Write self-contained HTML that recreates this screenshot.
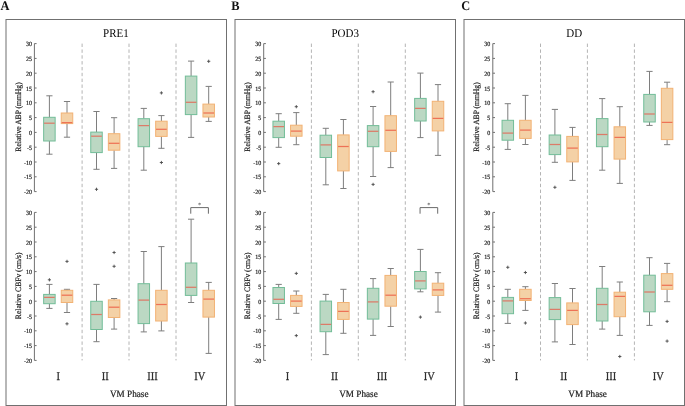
<!DOCTYPE html>
<html><head><meta charset="utf-8"><style>
html,body{margin:0;padding:0;background:#fff;}
svg{display:block;will-change:transform;}
svg text{-webkit-font-smoothing:antialiased;}
text{font-family:"Liberation Serif",serif;fill:#1a1a1a;text-rendering:geometricPrecision;}
.tk,.yl{stroke:#222;stroke-width:0.18px;}
.xl,.xt{stroke:#222;stroke-width:0.22px;}
.pl{font-size:12.4px;font-weight:bold;fill:#111;}
.ti{font-size:11px;fill:#000;}
.tk{font-size:6px;fill:#222;}
.yl{font-size:7.6px;fill:#222;}
.xl{font-size:10.5px;fill:#333;}
.xt{font-size:9.2px;fill:#222;}
.st{font-size:6.5px;fill:#333;}
</style></head><body>
<svg width="685" height="406" viewBox="0 0 685 406">
<rect width="685" height="406" fill="#fff"/>
<text transform="translate(0.5,9.8) scale(1,1.06)" class="pl">A</text>
<rect x="6" y="19.5" width="220.5" height="386" fill="none" stroke="#707070" stroke-width="1"/>
<text transform="translate(115.9,36.9) scale(1,1.08)" class="ti" text-anchor="middle">PRE1</text>
<line x1="82.1" y1="43.6" x2="82.1" y2="360.4" stroke="#b4b4b4" stroke-width="1" stroke-dasharray="3.4 2.44"/>
<line x1="129" y1="43.6" x2="129" y2="360.4" stroke="#b4b4b4" stroke-width="1" stroke-dasharray="3.4 2.44"/>
<line x1="176" y1="43.6" x2="176" y2="360.4" stroke="#b4b4b4" stroke-width="1" stroke-dasharray="3.4 2.44"/>
<line x1="34.4" y1="43.6" x2="34.4" y2="191.6" stroke="#707070" stroke-width="1"/>
<line x1="34.4" y1="43.6" x2="36.6" y2="43.6" stroke="#707070" stroke-width="1"/>
<text transform="translate(31.9,46.2) scale(1,1.06)" class="tk" text-anchor="end">30</text>
<line x1="34.4" y1="58.4" x2="36.6" y2="58.4" stroke="#707070" stroke-width="1"/>
<text transform="translate(31.9,61) scale(1,1.06)" class="tk" text-anchor="end">25</text>
<line x1="34.4" y1="73.2" x2="36.6" y2="73.2" stroke="#707070" stroke-width="1"/>
<text transform="translate(31.9,75.8) scale(1,1.06)" class="tk" text-anchor="end">20</text>
<line x1="34.4" y1="88" x2="36.6" y2="88" stroke="#707070" stroke-width="1"/>
<text transform="translate(31.9,90.6) scale(1,1.06)" class="tk" text-anchor="end">15</text>
<line x1="34.4" y1="102.8" x2="36.6" y2="102.8" stroke="#707070" stroke-width="1"/>
<text transform="translate(31.9,105.4) scale(1,1.06)" class="tk" text-anchor="end">10</text>
<line x1="34.4" y1="117.6" x2="36.6" y2="117.6" stroke="#707070" stroke-width="1"/>
<text transform="translate(31.9,120.2) scale(1,1.06)" class="tk" text-anchor="end">5</text>
<line x1="34.4" y1="132.4" x2="36.6" y2="132.4" stroke="#707070" stroke-width="1"/>
<text transform="translate(31.9,135) scale(1,1.06)" class="tk" text-anchor="end">0</text>
<line x1="34.4" y1="147.2" x2="36.6" y2="147.2" stroke="#707070" stroke-width="1"/>
<text transform="translate(31.9,149.8) scale(1,1.06)" class="tk" text-anchor="end">-5</text>
<line x1="34.4" y1="162" x2="36.6" y2="162" stroke="#707070" stroke-width="1"/>
<text transform="translate(31.9,164.6) scale(1,1.06)" class="tk" text-anchor="end">-10</text>
<line x1="34.4" y1="176.8" x2="36.6" y2="176.8" stroke="#707070" stroke-width="1"/>
<text transform="translate(31.9,179.4) scale(1,1.06)" class="tk" text-anchor="end">-15</text>
<line x1="34.4" y1="191.6" x2="36.6" y2="191.6" stroke="#707070" stroke-width="1"/>
<text transform="translate(31.9,194.2) scale(1,1.06)" class="tk" text-anchor="end">-20</text>
<text transform="translate(20.5,117) rotate(-90) scale(1,1.08)" class="yl" text-anchor="middle">Relative ABP (mmHg)</text>
<line x1="49.4" y1="95.8" x2="49.4" y2="117.3" stroke="#7e7e7e" stroke-width="1"/>
<line x1="49.4" y1="141" x2="49.4" y2="154.2" stroke="#7e7e7e" stroke-width="1"/>
<line x1="46.3" y1="95.8" x2="52.5" y2="95.8" stroke="#7e7e7e" stroke-width="1"/>
<line x1="46.3" y1="154.2" x2="52.5" y2="154.2" stroke="#7e7e7e" stroke-width="1"/>
<rect x="43.65" y="117.3" width="11.5" height="23.7" fill="#bbd8c3" stroke="#72bd98" stroke-width="1"/>
<line x1="44.05" y1="123.2" x2="54.75" y2="123.2" stroke="#dc7b68" stroke-width="1.25"/>
<line x1="67" y1="101.5" x2="67" y2="113" stroke="#7e7e7e" stroke-width="1"/>
<line x1="67" y1="123.6" x2="67" y2="137.2" stroke="#7e7e7e" stroke-width="1"/>
<line x1="63.9" y1="101.5" x2="70.1" y2="101.5" stroke="#7e7e7e" stroke-width="1"/>
<line x1="63.9" y1="137.2" x2="70.1" y2="137.2" stroke="#7e7e7e" stroke-width="1"/>
<rect x="61.25" y="113" width="11.5" height="10.6" fill="#f4d1a6" stroke="#f2b274" stroke-width="1"/>
<line x1="61.65" y1="122.6" x2="72.35" y2="122.6" stroke="#ee7256" stroke-width="1.25"/>
<line x1="96.5" y1="111.5" x2="96.5" y2="132.1" stroke="#7e7e7e" stroke-width="1"/>
<line x1="96.5" y1="152.6" x2="96.5" y2="169.3" stroke="#7e7e7e" stroke-width="1"/>
<line x1="93.4" y1="111.5" x2="99.6" y2="111.5" stroke="#7e7e7e" stroke-width="1"/>
<line x1="93.4" y1="169.3" x2="99.6" y2="169.3" stroke="#7e7e7e" stroke-width="1"/>
<rect x="90.75" y="132.1" width="11.5" height="20.5" fill="#bbd8c3" stroke="#72bd98" stroke-width="1"/>
<line x1="91.15" y1="136.2" x2="101.85" y2="136.2" stroke="#dc7b68" stroke-width="1.25"/>
<path d="M94.9 189.3H98.1M96.5 187.7V190.9" stroke="#4a4a4a" stroke-width="0.9" fill="none"/>
<line x1="114.1" y1="117.7" x2="114.1" y2="133.7" stroke="#7e7e7e" stroke-width="1"/>
<line x1="114.1" y1="150.2" x2="114.1" y2="168.4" stroke="#7e7e7e" stroke-width="1"/>
<line x1="111" y1="117.7" x2="117.2" y2="117.7" stroke="#7e7e7e" stroke-width="1"/>
<line x1="111" y1="168.4" x2="117.2" y2="168.4" stroke="#7e7e7e" stroke-width="1"/>
<rect x="108.35" y="133.7" width="11.5" height="16.5" fill="#f4d1a6" stroke="#f2b274" stroke-width="1"/>
<line x1="108.75" y1="143.3" x2="119.45" y2="143.3" stroke="#ee7256" stroke-width="1.25"/>
<line x1="143.8" y1="108.4" x2="143.8" y2="118.7" stroke="#7e7e7e" stroke-width="1"/>
<line x1="143.8" y1="146.7" x2="143.8" y2="170.2" stroke="#7e7e7e" stroke-width="1"/>
<line x1="140.7" y1="108.4" x2="146.9" y2="108.4" stroke="#7e7e7e" stroke-width="1"/>
<line x1="140.7" y1="170.2" x2="146.9" y2="170.2" stroke="#7e7e7e" stroke-width="1"/>
<rect x="138.05" y="118.7" width="11.5" height="28" fill="#bbd8c3" stroke="#72bd98" stroke-width="1"/>
<line x1="138.45" y1="125.6" x2="149.15" y2="125.6" stroke="#dc7b68" stroke-width="1.25"/>
<line x1="161.4" y1="115.6" x2="161.4" y2="121.2" stroke="#7e7e7e" stroke-width="1"/>
<line x1="161.4" y1="136.4" x2="161.4" y2="148.3" stroke="#7e7e7e" stroke-width="1"/>
<line x1="158.3" y1="115.6" x2="164.5" y2="115.6" stroke="#7e7e7e" stroke-width="1"/>
<line x1="158.3" y1="148.3" x2="164.5" y2="148.3" stroke="#7e7e7e" stroke-width="1"/>
<rect x="155.65" y="121.2" width="11.5" height="15.2" fill="#f4d1a6" stroke="#f2b274" stroke-width="1"/>
<line x1="156.05" y1="129.3" x2="166.75" y2="129.3" stroke="#ee7256" stroke-width="1.25"/>
<path d="M159.8 92.9H163M161.4 91.3V94.5" stroke="#4a4a4a" stroke-width="0.9" fill="none"/>
<path d="M159.8 162.5H163M161.4 160.9V164.1" stroke="#4a4a4a" stroke-width="0.9" fill="none"/>
<line x1="191.1" y1="61.1" x2="191.1" y2="76.1" stroke="#7e7e7e" stroke-width="1"/>
<line x1="191.1" y1="114.6" x2="191.1" y2="137.4" stroke="#7e7e7e" stroke-width="1"/>
<line x1="188" y1="61.1" x2="194.2" y2="61.1" stroke="#7e7e7e" stroke-width="1"/>
<line x1="188" y1="137.4" x2="194.2" y2="137.4" stroke="#7e7e7e" stroke-width="1"/>
<rect x="185.35" y="76.1" width="11.5" height="38.5" fill="#bbd8c3" stroke="#72bd98" stroke-width="1"/>
<line x1="185.75" y1="102.3" x2="196.45" y2="102.3" stroke="#dc7b68" stroke-width="1.25"/>
<line x1="208.7" y1="86.4" x2="208.7" y2="104.1" stroke="#7e7e7e" stroke-width="1"/>
<line x1="208.7" y1="117" x2="208.7" y2="121.4" stroke="#7e7e7e" stroke-width="1"/>
<line x1="205.6" y1="86.4" x2="211.8" y2="86.4" stroke="#7e7e7e" stroke-width="1"/>
<line x1="205.6" y1="121.4" x2="211.8" y2="121.4" stroke="#7e7e7e" stroke-width="1"/>
<rect x="202.95" y="104.1" width="11.5" height="12.9" fill="#f4d1a6" stroke="#f2b274" stroke-width="1"/>
<line x1="203.35" y1="113" x2="214.05" y2="113" stroke="#ee7256" stroke-width="1.25"/>
<path d="M207.1 61.3H210.3M208.7 59.7V62.9" stroke="#4a4a4a" stroke-width="0.9" fill="none"/>
<line x1="34.4" y1="212.4" x2="34.4" y2="360.4" stroke="#707070" stroke-width="1"/>
<line x1="34.4" y1="212.4" x2="36.6" y2="212.4" stroke="#707070" stroke-width="1"/>
<text transform="translate(31.9,215) scale(1,1.06)" class="tk" text-anchor="end">30</text>
<line x1="34.4" y1="227.2" x2="36.6" y2="227.2" stroke="#707070" stroke-width="1"/>
<text transform="translate(31.9,229.8) scale(1,1.06)" class="tk" text-anchor="end">25</text>
<line x1="34.4" y1="242" x2="36.6" y2="242" stroke="#707070" stroke-width="1"/>
<text transform="translate(31.9,244.6) scale(1,1.06)" class="tk" text-anchor="end">20</text>
<line x1="34.4" y1="256.8" x2="36.6" y2="256.8" stroke="#707070" stroke-width="1"/>
<text transform="translate(31.9,259.4) scale(1,1.06)" class="tk" text-anchor="end">15</text>
<line x1="34.4" y1="271.6" x2="36.6" y2="271.6" stroke="#707070" stroke-width="1"/>
<text transform="translate(31.9,274.2) scale(1,1.06)" class="tk" text-anchor="end">10</text>
<line x1="34.4" y1="286.4" x2="36.6" y2="286.4" stroke="#707070" stroke-width="1"/>
<text transform="translate(31.9,289) scale(1,1.06)" class="tk" text-anchor="end">5</text>
<line x1="34.4" y1="301.2" x2="36.6" y2="301.2" stroke="#707070" stroke-width="1"/>
<text transform="translate(31.9,303.8) scale(1,1.06)" class="tk" text-anchor="end">0</text>
<line x1="34.4" y1="316" x2="36.6" y2="316" stroke="#707070" stroke-width="1"/>
<text transform="translate(31.9,318.6) scale(1,1.06)" class="tk" text-anchor="end">-5</text>
<line x1="34.4" y1="330.8" x2="36.6" y2="330.8" stroke="#707070" stroke-width="1"/>
<text transform="translate(31.9,333.4) scale(1,1.06)" class="tk" text-anchor="end">-10</text>
<line x1="34.4" y1="345.6" x2="36.6" y2="345.6" stroke="#707070" stroke-width="1"/>
<text transform="translate(31.9,348.2) scale(1,1.06)" class="tk" text-anchor="end">-15</text>
<line x1="34.4" y1="360.4" x2="36.6" y2="360.4" stroke="#707070" stroke-width="1"/>
<text transform="translate(31.9,363) scale(1,1.06)" class="tk" text-anchor="end">-20</text>
<text transform="translate(20.5,285.8) rotate(-90) scale(1,1.08)" class="yl" text-anchor="middle">Relative CBFv (cm/s)</text>
<line x1="49.4" y1="284.4" x2="49.4" y2="294.4" stroke="#7e7e7e" stroke-width="1"/>
<line x1="49.4" y1="303.7" x2="49.4" y2="308.4" stroke="#7e7e7e" stroke-width="1"/>
<line x1="46.3" y1="284.4" x2="52.5" y2="284.4" stroke="#7e7e7e" stroke-width="1"/>
<line x1="46.3" y1="308.4" x2="52.5" y2="308.4" stroke="#7e7e7e" stroke-width="1"/>
<rect x="43.65" y="294.4" width="11.5" height="9.3" fill="#bbd8c3" stroke="#72bd98" stroke-width="1"/>
<line x1="44.05" y1="297.4" x2="54.75" y2="297.4" stroke="#dc7b68" stroke-width="1.25"/>
<path d="M47.8 279.8H51M49.4 278.2V281.4" stroke="#4a4a4a" stroke-width="0.9" fill="none"/>
<line x1="67" y1="289.3" x2="67" y2="290.3" stroke="#7e7e7e" stroke-width="1"/>
<line x1="67" y1="302.5" x2="67" y2="312.5" stroke="#7e7e7e" stroke-width="1"/>
<line x1="63.9" y1="289.3" x2="70.1" y2="289.3" stroke="#7e7e7e" stroke-width="1"/>
<line x1="63.9" y1="312.5" x2="70.1" y2="312.5" stroke="#7e7e7e" stroke-width="1"/>
<rect x="61.25" y="290.3" width="11.5" height="12.2" fill="#f4d1a6" stroke="#f2b274" stroke-width="1"/>
<line x1="61.65" y1="295.2" x2="72.35" y2="295.2" stroke="#ee7256" stroke-width="1.25"/>
<path d="M65.4 261.4H68.6M67 259.8V263" stroke="#4a4a4a" stroke-width="0.9" fill="none"/>
<path d="M65.4 323.8H68.6M67 322.2V325.4" stroke="#4a4a4a" stroke-width="0.9" fill="none"/>
<line x1="96.5" y1="284.4" x2="96.5" y2="301.3" stroke="#7e7e7e" stroke-width="1"/>
<line x1="96.5" y1="329.5" x2="96.5" y2="341.7" stroke="#7e7e7e" stroke-width="1"/>
<line x1="93.4" y1="284.4" x2="99.6" y2="284.4" stroke="#7e7e7e" stroke-width="1"/>
<line x1="93.4" y1="341.7" x2="99.6" y2="341.7" stroke="#7e7e7e" stroke-width="1"/>
<rect x="90.75" y="301.3" width="11.5" height="28.2" fill="#bbd8c3" stroke="#72bd98" stroke-width="1"/>
<line x1="91.15" y1="314.5" x2="101.85" y2="314.5" stroke="#dc7b68" stroke-width="1.25"/>
<line x1="114.1" y1="298.5" x2="114.1" y2="299.9" stroke="#7e7e7e" stroke-width="1"/>
<line x1="114.1" y1="317.5" x2="114.1" y2="329.1" stroke="#7e7e7e" stroke-width="1"/>
<line x1="111" y1="298.5" x2="117.2" y2="298.5" stroke="#7e7e7e" stroke-width="1"/>
<line x1="111" y1="329.1" x2="117.2" y2="329.1" stroke="#7e7e7e" stroke-width="1"/>
<rect x="108.35" y="299.9" width="11.5" height="17.6" fill="#f4d1a6" stroke="#f2b274" stroke-width="1"/>
<line x1="108.75" y1="307.2" x2="119.45" y2="307.2" stroke="#ee7256" stroke-width="1.25"/>
<path d="M112.5 252.5H115.7M114.1 250.9V254.1" stroke="#4a4a4a" stroke-width="0.9" fill="none"/>
<path d="M112.5 266.3H115.7M114.1 264.7V267.9" stroke="#4a4a4a" stroke-width="0.9" fill="none"/>
<line x1="143.8" y1="251.5" x2="143.8" y2="283.7" stroke="#7e7e7e" stroke-width="1"/>
<line x1="143.8" y1="323.6" x2="143.8" y2="331.9" stroke="#7e7e7e" stroke-width="1"/>
<line x1="140.7" y1="251.5" x2="146.9" y2="251.5" stroke="#7e7e7e" stroke-width="1"/>
<line x1="140.7" y1="331.9" x2="146.9" y2="331.9" stroke="#7e7e7e" stroke-width="1"/>
<rect x="138.05" y="283.7" width="11.5" height="39.9" fill="#bbd8c3" stroke="#72bd98" stroke-width="1"/>
<line x1="138.45" y1="300.1" x2="149.15" y2="300.1" stroke="#dc7b68" stroke-width="1.25"/>
<line x1="161.4" y1="246.6" x2="161.4" y2="290.3" stroke="#7e7e7e" stroke-width="1"/>
<line x1="161.4" y1="321" x2="161.4" y2="330.9" stroke="#7e7e7e" stroke-width="1"/>
<line x1="158.3" y1="246.6" x2="164.5" y2="246.6" stroke="#7e7e7e" stroke-width="1"/>
<line x1="158.3" y1="330.9" x2="164.5" y2="330.9" stroke="#7e7e7e" stroke-width="1"/>
<rect x="155.65" y="290.3" width="11.5" height="30.7" fill="#f4d1a6" stroke="#f2b274" stroke-width="1"/>
<line x1="156.05" y1="304.5" x2="166.75" y2="304.5" stroke="#ee7256" stroke-width="1.25"/>
<line x1="191.1" y1="219.2" x2="191.1" y2="263" stroke="#7e7e7e" stroke-width="1"/>
<line x1="191.1" y1="295.4" x2="191.1" y2="302.5" stroke="#7e7e7e" stroke-width="1"/>
<line x1="188" y1="219.2" x2="194.2" y2="219.2" stroke="#7e7e7e" stroke-width="1"/>
<line x1="188" y1="302.5" x2="194.2" y2="302.5" stroke="#7e7e7e" stroke-width="1"/>
<rect x="185.35" y="263" width="11.5" height="32.4" fill="#bbd8c3" stroke="#72bd98" stroke-width="1"/>
<line x1="185.75" y1="287.3" x2="196.45" y2="287.3" stroke="#dc7b68" stroke-width="1.25"/>
<line x1="208.7" y1="282.4" x2="208.7" y2="290.3" stroke="#7e7e7e" stroke-width="1"/>
<line x1="208.7" y1="317.1" x2="208.7" y2="353.4" stroke="#7e7e7e" stroke-width="1"/>
<line x1="205.6" y1="282.4" x2="211.8" y2="282.4" stroke="#7e7e7e" stroke-width="1"/>
<line x1="205.6" y1="353.4" x2="211.8" y2="353.4" stroke="#7e7e7e" stroke-width="1"/>
<rect x="202.95" y="290.3" width="11.5" height="26.8" fill="#f4d1a6" stroke="#f2b274" stroke-width="1"/>
<line x1="203.35" y1="299.1" x2="214.05" y2="299.1" stroke="#ee7256" stroke-width="1.25"/>
<text transform="translate(58.2,380) scale(1,1.14)" class="xl" text-anchor="middle">I</text>
<text transform="translate(105.3,380) scale(1,1.14)" class="xl" text-anchor="middle">II</text>
<text transform="translate(152.6,380) scale(1,1.14)" class="xl" text-anchor="middle">III</text>
<text transform="translate(199.9,380) scale(1,1.14)" class="xl" text-anchor="middle">IV</text>
<text transform="translate(129.2,396.8) scale(1,1.06)" class="xt" text-anchor="middle">VM Phase</text>
<text transform="translate(231.3,9.8) scale(1,1.06)" class="pl">B</text>
<rect x="235" y="19.5" width="220.5" height="386" fill="none" stroke="#707070" stroke-width="1"/>
<text transform="translate(345.2,36.9) scale(1,1.08)" class="ti" text-anchor="middle">POD3</text>
<line x1="311.4" y1="43.6" x2="311.4" y2="360.4" stroke="#b4b4b4" stroke-width="1" stroke-dasharray="3.4 2.44"/>
<line x1="358.3" y1="43.6" x2="358.3" y2="360.4" stroke="#b4b4b4" stroke-width="1" stroke-dasharray="3.4 2.44"/>
<line x1="405.3" y1="43.6" x2="405.3" y2="360.4" stroke="#b4b4b4" stroke-width="1" stroke-dasharray="3.4 2.44"/>
<line x1="263.7" y1="43.6" x2="263.7" y2="191.6" stroke="#707070" stroke-width="1"/>
<line x1="263.7" y1="43.6" x2="265.9" y2="43.6" stroke="#707070" stroke-width="1"/>
<text transform="translate(261.2,46.2) scale(1,1.06)" class="tk" text-anchor="end">30</text>
<line x1="263.7" y1="58.4" x2="265.9" y2="58.4" stroke="#707070" stroke-width="1"/>
<text transform="translate(261.2,61) scale(1,1.06)" class="tk" text-anchor="end">25</text>
<line x1="263.7" y1="73.2" x2="265.9" y2="73.2" stroke="#707070" stroke-width="1"/>
<text transform="translate(261.2,75.8) scale(1,1.06)" class="tk" text-anchor="end">20</text>
<line x1="263.7" y1="88" x2="265.9" y2="88" stroke="#707070" stroke-width="1"/>
<text transform="translate(261.2,90.6) scale(1,1.06)" class="tk" text-anchor="end">15</text>
<line x1="263.7" y1="102.8" x2="265.9" y2="102.8" stroke="#707070" stroke-width="1"/>
<text transform="translate(261.2,105.4) scale(1,1.06)" class="tk" text-anchor="end">10</text>
<line x1="263.7" y1="117.6" x2="265.9" y2="117.6" stroke="#707070" stroke-width="1"/>
<text transform="translate(261.2,120.2) scale(1,1.06)" class="tk" text-anchor="end">5</text>
<line x1="263.7" y1="132.4" x2="265.9" y2="132.4" stroke="#707070" stroke-width="1"/>
<text transform="translate(261.2,135) scale(1,1.06)" class="tk" text-anchor="end">0</text>
<line x1="263.7" y1="147.2" x2="265.9" y2="147.2" stroke="#707070" stroke-width="1"/>
<text transform="translate(261.2,149.8) scale(1,1.06)" class="tk" text-anchor="end">-5</text>
<line x1="263.7" y1="162" x2="265.9" y2="162" stroke="#707070" stroke-width="1"/>
<text transform="translate(261.2,164.6) scale(1,1.06)" class="tk" text-anchor="end">-10</text>
<line x1="263.7" y1="176.8" x2="265.9" y2="176.8" stroke="#707070" stroke-width="1"/>
<text transform="translate(261.2,179.4) scale(1,1.06)" class="tk" text-anchor="end">-15</text>
<line x1="263.7" y1="191.6" x2="265.9" y2="191.6" stroke="#707070" stroke-width="1"/>
<text transform="translate(261.2,194.2) scale(1,1.06)" class="tk" text-anchor="end">-20</text>
<text transform="translate(249.8,117) rotate(-90) scale(1,1.08)" class="yl" text-anchor="middle">Relative ABP (mmHg)</text>
<line x1="278.7" y1="113.7" x2="278.7" y2="121.2" stroke="#7e7e7e" stroke-width="1"/>
<line x1="278.7" y1="137.6" x2="278.7" y2="147.3" stroke="#7e7e7e" stroke-width="1"/>
<line x1="275.6" y1="113.7" x2="281.8" y2="113.7" stroke="#7e7e7e" stroke-width="1"/>
<line x1="275.6" y1="147.3" x2="281.8" y2="147.3" stroke="#7e7e7e" stroke-width="1"/>
<rect x="272.95" y="121.2" width="11.5" height="16.4" fill="#bbd8c3" stroke="#72bd98" stroke-width="1"/>
<line x1="273.35" y1="126.6" x2="284.05" y2="126.6" stroke="#dc7b68" stroke-width="1.25"/>
<path d="M277.1 163.6H280.3M278.7 162V165.2" stroke="#4a4a4a" stroke-width="0.9" fill="none"/>
<line x1="296.3" y1="112.6" x2="296.3" y2="125.2" stroke="#7e7e7e" stroke-width="1"/>
<line x1="296.3" y1="136.2" x2="296.3" y2="144.7" stroke="#7e7e7e" stroke-width="1"/>
<line x1="293.2" y1="112.6" x2="299.4" y2="112.6" stroke="#7e7e7e" stroke-width="1"/>
<line x1="293.2" y1="144.7" x2="299.4" y2="144.7" stroke="#7e7e7e" stroke-width="1"/>
<rect x="290.55" y="125.2" width="11.5" height="11" fill="#f4d1a6" stroke="#f2b274" stroke-width="1"/>
<line x1="290.95" y1="131.1" x2="301.65" y2="131.1" stroke="#ee7256" stroke-width="1.25"/>
<path d="M294.7 106.7H297.9M296.3 105.1V108.3" stroke="#4a4a4a" stroke-width="0.9" fill="none"/>
<line x1="325.8" y1="128.3" x2="325.8" y2="135.2" stroke="#7e7e7e" stroke-width="1"/>
<line x1="325.8" y1="157.5" x2="325.8" y2="184.8" stroke="#7e7e7e" stroke-width="1"/>
<line x1="322.7" y1="128.3" x2="328.9" y2="128.3" stroke="#7e7e7e" stroke-width="1"/>
<line x1="322.7" y1="184.8" x2="328.9" y2="184.8" stroke="#7e7e7e" stroke-width="1"/>
<rect x="320.05" y="135.2" width="11.5" height="22.3" fill="#bbd8c3" stroke="#72bd98" stroke-width="1"/>
<line x1="320.45" y1="144.9" x2="331.15" y2="144.9" stroke="#dc7b68" stroke-width="1.25"/>
<line x1="343.4" y1="119.5" x2="343.4" y2="134.9" stroke="#7e7e7e" stroke-width="1"/>
<line x1="343.4" y1="170.9" x2="343.4" y2="188.5" stroke="#7e7e7e" stroke-width="1"/>
<line x1="340.3" y1="119.5" x2="346.5" y2="119.5" stroke="#7e7e7e" stroke-width="1"/>
<line x1="340.3" y1="188.5" x2="346.5" y2="188.5" stroke="#7e7e7e" stroke-width="1"/>
<rect x="337.65" y="134.9" width="11.5" height="36" fill="#f4d1a6" stroke="#f2b274" stroke-width="1"/>
<line x1="338.05" y1="146.5" x2="348.75" y2="146.5" stroke="#ee7256" stroke-width="1.25"/>
<line x1="373.1" y1="106.5" x2="373.1" y2="125.6" stroke="#7e7e7e" stroke-width="1"/>
<line x1="373.1" y1="146.7" x2="373.1" y2="176.5" stroke="#7e7e7e" stroke-width="1"/>
<line x1="370" y1="106.5" x2="376.2" y2="106.5" stroke="#7e7e7e" stroke-width="1"/>
<line x1="370" y1="176.5" x2="376.2" y2="176.5" stroke="#7e7e7e" stroke-width="1"/>
<rect x="367.35" y="125.6" width="11.5" height="21.1" fill="#bbd8c3" stroke="#72bd98" stroke-width="1"/>
<line x1="367.75" y1="131.3" x2="378.45" y2="131.3" stroke="#dc7b68" stroke-width="1.25"/>
<path d="M371.5 91.7H374.7M373.1 90.1V93.3" stroke="#4a4a4a" stroke-width="0.9" fill="none"/>
<path d="M371.5 184.4H374.7M373.1 182.8V186" stroke="#4a4a4a" stroke-width="0.9" fill="none"/>
<line x1="390.7" y1="82" x2="390.7" y2="115.7" stroke="#7e7e7e" stroke-width="1"/>
<line x1="390.7" y1="151.4" x2="390.7" y2="167.6" stroke="#7e7e7e" stroke-width="1"/>
<line x1="387.6" y1="82" x2="393.8" y2="82" stroke="#7e7e7e" stroke-width="1"/>
<line x1="387.6" y1="167.6" x2="393.8" y2="167.6" stroke="#7e7e7e" stroke-width="1"/>
<rect x="384.95" y="115.7" width="11.5" height="35.7" fill="#f4d1a6" stroke="#f2b274" stroke-width="1"/>
<line x1="385.35" y1="130.3" x2="396.05" y2="130.3" stroke="#ee7256" stroke-width="1.25"/>
<line x1="420.4" y1="73.1" x2="420.4" y2="98.4" stroke="#7e7e7e" stroke-width="1"/>
<line x1="420.4" y1="121" x2="420.4" y2="137.6" stroke="#7e7e7e" stroke-width="1"/>
<line x1="417.3" y1="73.1" x2="423.5" y2="73.1" stroke="#7e7e7e" stroke-width="1"/>
<line x1="417.3" y1="137.6" x2="423.5" y2="137.6" stroke="#7e7e7e" stroke-width="1"/>
<rect x="414.65" y="98.4" width="11.5" height="22.6" fill="#bbd8c3" stroke="#72bd98" stroke-width="1"/>
<line x1="415.05" y1="108.4" x2="425.75" y2="108.4" stroke="#dc7b68" stroke-width="1.25"/>
<line x1="438" y1="84.6" x2="438" y2="101.3" stroke="#7e7e7e" stroke-width="1"/>
<line x1="438" y1="130.9" x2="438" y2="155.4" stroke="#7e7e7e" stroke-width="1"/>
<line x1="434.9" y1="84.6" x2="441.1" y2="84.6" stroke="#7e7e7e" stroke-width="1"/>
<line x1="434.9" y1="155.4" x2="441.1" y2="155.4" stroke="#7e7e7e" stroke-width="1"/>
<rect x="432.25" y="101.3" width="11.5" height="29.6" fill="#f4d1a6" stroke="#f2b274" stroke-width="1"/>
<line x1="432.65" y1="118.4" x2="443.35" y2="118.4" stroke="#ee7256" stroke-width="1.25"/>
<line x1="263.7" y1="212.4" x2="263.7" y2="360.4" stroke="#707070" stroke-width="1"/>
<line x1="263.7" y1="212.4" x2="265.9" y2="212.4" stroke="#707070" stroke-width="1"/>
<text transform="translate(261.2,215) scale(1,1.06)" class="tk" text-anchor="end">30</text>
<line x1="263.7" y1="227.2" x2="265.9" y2="227.2" stroke="#707070" stroke-width="1"/>
<text transform="translate(261.2,229.8) scale(1,1.06)" class="tk" text-anchor="end">25</text>
<line x1="263.7" y1="242" x2="265.9" y2="242" stroke="#707070" stroke-width="1"/>
<text transform="translate(261.2,244.6) scale(1,1.06)" class="tk" text-anchor="end">20</text>
<line x1="263.7" y1="256.8" x2="265.9" y2="256.8" stroke="#707070" stroke-width="1"/>
<text transform="translate(261.2,259.4) scale(1,1.06)" class="tk" text-anchor="end">15</text>
<line x1="263.7" y1="271.6" x2="265.9" y2="271.6" stroke="#707070" stroke-width="1"/>
<text transform="translate(261.2,274.2) scale(1,1.06)" class="tk" text-anchor="end">10</text>
<line x1="263.7" y1="286.4" x2="265.9" y2="286.4" stroke="#707070" stroke-width="1"/>
<text transform="translate(261.2,289) scale(1,1.06)" class="tk" text-anchor="end">5</text>
<line x1="263.7" y1="301.2" x2="265.9" y2="301.2" stroke="#707070" stroke-width="1"/>
<text transform="translate(261.2,303.8) scale(1,1.06)" class="tk" text-anchor="end">0</text>
<line x1="263.7" y1="316" x2="265.9" y2="316" stroke="#707070" stroke-width="1"/>
<text transform="translate(261.2,318.6) scale(1,1.06)" class="tk" text-anchor="end">-5</text>
<line x1="263.7" y1="330.8" x2="265.9" y2="330.8" stroke="#707070" stroke-width="1"/>
<text transform="translate(261.2,333.4) scale(1,1.06)" class="tk" text-anchor="end">-10</text>
<line x1="263.7" y1="345.6" x2="265.9" y2="345.6" stroke="#707070" stroke-width="1"/>
<text transform="translate(261.2,348.2) scale(1,1.06)" class="tk" text-anchor="end">-15</text>
<line x1="263.7" y1="360.4" x2="265.9" y2="360.4" stroke="#707070" stroke-width="1"/>
<text transform="translate(261.2,363) scale(1,1.06)" class="tk" text-anchor="end">-20</text>
<text transform="translate(249.8,285.8) rotate(-90) scale(1,1.08)" class="yl" text-anchor="middle">Relative CBFv (cm/s)</text>
<line x1="278.7" y1="284.4" x2="278.7" y2="287.5" stroke="#7e7e7e" stroke-width="1"/>
<line x1="278.7" y1="303.5" x2="278.7" y2="319.4" stroke="#7e7e7e" stroke-width="1"/>
<line x1="275.6" y1="284.4" x2="281.8" y2="284.4" stroke="#7e7e7e" stroke-width="1"/>
<line x1="275.6" y1="319.4" x2="281.8" y2="319.4" stroke="#7e7e7e" stroke-width="1"/>
<rect x="272.95" y="287.5" width="11.5" height="16" fill="#bbd8c3" stroke="#72bd98" stroke-width="1"/>
<line x1="273.35" y1="299.3" x2="284.05" y2="299.3" stroke="#dc7b68" stroke-width="1.25"/>
<line x1="296.3" y1="291" x2="296.3" y2="295.4" stroke="#7e7e7e" stroke-width="1"/>
<line x1="296.3" y1="306.4" x2="296.3" y2="313.3" stroke="#7e7e7e" stroke-width="1"/>
<line x1="293.2" y1="291" x2="299.4" y2="291" stroke="#7e7e7e" stroke-width="1"/>
<line x1="293.2" y1="313.3" x2="299.4" y2="313.3" stroke="#7e7e7e" stroke-width="1"/>
<rect x="290.55" y="295.4" width="11.5" height="11" fill="#f4d1a6" stroke="#f2b274" stroke-width="1"/>
<line x1="290.95" y1="301.1" x2="301.65" y2="301.1" stroke="#ee7256" stroke-width="1.25"/>
<path d="M294.7 273.4H297.9M296.3 271.8V275" stroke="#4a4a4a" stroke-width="0.9" fill="none"/>
<path d="M294.7 335.6H297.9M296.3 334V337.2" stroke="#4a4a4a" stroke-width="0.9" fill="none"/>
<line x1="325.8" y1="294.4" x2="325.8" y2="301.1" stroke="#7e7e7e" stroke-width="1"/>
<line x1="325.8" y1="331.7" x2="325.8" y2="354.6" stroke="#7e7e7e" stroke-width="1"/>
<line x1="322.7" y1="294.4" x2="328.9" y2="294.4" stroke="#7e7e7e" stroke-width="1"/>
<line x1="322.7" y1="354.6" x2="328.9" y2="354.6" stroke="#7e7e7e" stroke-width="1"/>
<rect x="320.05" y="301.1" width="11.5" height="30.6" fill="#bbd8c3" stroke="#72bd98" stroke-width="1"/>
<line x1="320.45" y1="324.4" x2="331.15" y2="324.4" stroke="#dc7b68" stroke-width="1.25"/>
<line x1="343.4" y1="289.3" x2="343.4" y2="302.5" stroke="#7e7e7e" stroke-width="1"/>
<line x1="343.4" y1="319.4" x2="343.4" y2="333.3" stroke="#7e7e7e" stroke-width="1"/>
<line x1="340.3" y1="289.3" x2="346.5" y2="289.3" stroke="#7e7e7e" stroke-width="1"/>
<line x1="340.3" y1="333.3" x2="346.5" y2="333.3" stroke="#7e7e7e" stroke-width="1"/>
<rect x="337.65" y="302.5" width="11.5" height="16.9" fill="#f4d1a6" stroke="#f2b274" stroke-width="1"/>
<line x1="338.05" y1="311.4" x2="348.75" y2="311.4" stroke="#ee7256" stroke-width="1.25"/>
<line x1="373.1" y1="278.6" x2="373.1" y2="288.3" stroke="#7e7e7e" stroke-width="1"/>
<line x1="373.1" y1="319.1" x2="373.1" y2="335.4" stroke="#7e7e7e" stroke-width="1"/>
<line x1="370" y1="278.6" x2="376.2" y2="278.6" stroke="#7e7e7e" stroke-width="1"/>
<line x1="370" y1="335.4" x2="376.2" y2="335.4" stroke="#7e7e7e" stroke-width="1"/>
<rect x="367.35" y="288.3" width="11.5" height="30.8" fill="#bbd8c3" stroke="#72bd98" stroke-width="1"/>
<line x1="367.75" y1="301.9" x2="378.45" y2="301.9" stroke="#dc7b68" stroke-width="1.25"/>
<line x1="390.7" y1="268.5" x2="390.7" y2="275.4" stroke="#7e7e7e" stroke-width="1"/>
<line x1="390.7" y1="306.2" x2="390.7" y2="326.5" stroke="#7e7e7e" stroke-width="1"/>
<line x1="387.6" y1="268.5" x2="393.8" y2="268.5" stroke="#7e7e7e" stroke-width="1"/>
<line x1="387.6" y1="326.5" x2="393.8" y2="326.5" stroke="#7e7e7e" stroke-width="1"/>
<rect x="384.95" y="275.4" width="11.5" height="30.8" fill="#f4d1a6" stroke="#f2b274" stroke-width="1"/>
<line x1="385.35" y1="295.2" x2="396.05" y2="295.2" stroke="#ee7256" stroke-width="1.25"/>
<line x1="420.4" y1="249.4" x2="420.4" y2="271.5" stroke="#7e7e7e" stroke-width="1"/>
<line x1="420.4" y1="288.9" x2="420.4" y2="291.8" stroke="#7e7e7e" stroke-width="1"/>
<line x1="417.3" y1="249.4" x2="423.5" y2="249.4" stroke="#7e7e7e" stroke-width="1"/>
<line x1="417.3" y1="291.8" x2="423.5" y2="291.8" stroke="#7e7e7e" stroke-width="1"/>
<rect x="414.65" y="271.5" width="11.5" height="17.4" fill="#bbd8c3" stroke="#72bd98" stroke-width="1"/>
<line x1="415.05" y1="280.9" x2="425.75" y2="280.9" stroke="#dc7b68" stroke-width="1.25"/>
<path d="M418.8 317.1H422M420.4 315.5V318.7" stroke="#4a4a4a" stroke-width="0.9" fill="none"/>
<line x1="438" y1="272.7" x2="438" y2="283.2" stroke="#7e7e7e" stroke-width="1"/>
<line x1="438" y1="295.4" x2="438" y2="312.1" stroke="#7e7e7e" stroke-width="1"/>
<line x1="434.9" y1="272.7" x2="441.1" y2="272.7" stroke="#7e7e7e" stroke-width="1"/>
<line x1="434.9" y1="312.1" x2="441.1" y2="312.1" stroke="#7e7e7e" stroke-width="1"/>
<rect x="432.25" y="283.2" width="11.5" height="12.2" fill="#f4d1a6" stroke="#f2b274" stroke-width="1"/>
<line x1="432.65" y1="289.9" x2="443.35" y2="289.9" stroke="#ee7256" stroke-width="1.25"/>
<text transform="translate(287.5,380) scale(1,1.14)" class="xl" text-anchor="middle">I</text>
<text transform="translate(334.6,380) scale(1,1.14)" class="xl" text-anchor="middle">II</text>
<text transform="translate(381.9,380) scale(1,1.14)" class="xl" text-anchor="middle">III</text>
<text transform="translate(429.2,380) scale(1,1.14)" class="xl" text-anchor="middle">IV</text>
<text transform="translate(358.5,396.8) scale(1,1.06)" class="xt" text-anchor="middle">VM Phase</text>
<text transform="translate(461.2,9.8) scale(1,1.06)" class="pl">C</text>
<rect x="464" y="19.5" width="220.5" height="386" fill="none" stroke="#707070" stroke-width="1"/>
<text transform="translate(574.3,36.9) scale(1,1.08)" class="ti" text-anchor="middle">DD</text>
<line x1="540.5" y1="43.6" x2="540.5" y2="360.4" stroke="#b4b4b4" stroke-width="1" stroke-dasharray="3.4 2.44"/>
<line x1="587.4" y1="43.6" x2="587.4" y2="360.4" stroke="#b4b4b4" stroke-width="1" stroke-dasharray="3.4 2.44"/>
<line x1="634.4" y1="43.6" x2="634.4" y2="360.4" stroke="#b4b4b4" stroke-width="1" stroke-dasharray="3.4 2.44"/>
<line x1="492.8" y1="43.6" x2="492.8" y2="191.6" stroke="#707070" stroke-width="1"/>
<line x1="492.8" y1="43.6" x2="495" y2="43.6" stroke="#707070" stroke-width="1"/>
<text transform="translate(490.3,46.2) scale(1,1.06)" class="tk" text-anchor="end">30</text>
<line x1="492.8" y1="58.4" x2="495" y2="58.4" stroke="#707070" stroke-width="1"/>
<text transform="translate(490.3,61) scale(1,1.06)" class="tk" text-anchor="end">25</text>
<line x1="492.8" y1="73.2" x2="495" y2="73.2" stroke="#707070" stroke-width="1"/>
<text transform="translate(490.3,75.8) scale(1,1.06)" class="tk" text-anchor="end">20</text>
<line x1="492.8" y1="88" x2="495" y2="88" stroke="#707070" stroke-width="1"/>
<text transform="translate(490.3,90.6) scale(1,1.06)" class="tk" text-anchor="end">15</text>
<line x1="492.8" y1="102.8" x2="495" y2="102.8" stroke="#707070" stroke-width="1"/>
<text transform="translate(490.3,105.4) scale(1,1.06)" class="tk" text-anchor="end">10</text>
<line x1="492.8" y1="117.6" x2="495" y2="117.6" stroke="#707070" stroke-width="1"/>
<text transform="translate(490.3,120.2) scale(1,1.06)" class="tk" text-anchor="end">5</text>
<line x1="492.8" y1="132.4" x2="495" y2="132.4" stroke="#707070" stroke-width="1"/>
<text transform="translate(490.3,135) scale(1,1.06)" class="tk" text-anchor="end">0</text>
<line x1="492.8" y1="147.2" x2="495" y2="147.2" stroke="#707070" stroke-width="1"/>
<text transform="translate(490.3,149.8) scale(1,1.06)" class="tk" text-anchor="end">-5</text>
<line x1="492.8" y1="162" x2="495" y2="162" stroke="#707070" stroke-width="1"/>
<text transform="translate(490.3,164.6) scale(1,1.06)" class="tk" text-anchor="end">-10</text>
<line x1="492.8" y1="176.8" x2="495" y2="176.8" stroke="#707070" stroke-width="1"/>
<text transform="translate(490.3,179.4) scale(1,1.06)" class="tk" text-anchor="end">-15</text>
<line x1="492.8" y1="191.6" x2="495" y2="191.6" stroke="#707070" stroke-width="1"/>
<text transform="translate(490.3,194.2) scale(1,1.06)" class="tk" text-anchor="end">-20</text>
<text transform="translate(478.9,117) rotate(-90) scale(1,1.08)" class="yl" text-anchor="middle">Relative ABP (mmHg)</text>
<line x1="507.8" y1="103.7" x2="507.8" y2="120.3" stroke="#7e7e7e" stroke-width="1"/>
<line x1="507.8" y1="140.2" x2="507.8" y2="149.4" stroke="#7e7e7e" stroke-width="1"/>
<line x1="504.7" y1="103.7" x2="510.9" y2="103.7" stroke="#7e7e7e" stroke-width="1"/>
<line x1="504.7" y1="149.4" x2="510.9" y2="149.4" stroke="#7e7e7e" stroke-width="1"/>
<rect x="502.05" y="120.3" width="11.5" height="19.9" fill="#bbd8c3" stroke="#72bd98" stroke-width="1"/>
<line x1="502.45" y1="133.1" x2="513.15" y2="133.1" stroke="#dc7b68" stroke-width="1.25"/>
<line x1="525.4" y1="95.4" x2="525.4" y2="120.3" stroke="#7e7e7e" stroke-width="1"/>
<line x1="525.4" y1="138.4" x2="525.4" y2="144.5" stroke="#7e7e7e" stroke-width="1"/>
<line x1="522.3" y1="95.4" x2="528.5" y2="95.4" stroke="#7e7e7e" stroke-width="1"/>
<line x1="522.3" y1="144.5" x2="528.5" y2="144.5" stroke="#7e7e7e" stroke-width="1"/>
<rect x="519.65" y="120.3" width="11.5" height="18.1" fill="#f4d1a6" stroke="#f2b274" stroke-width="1"/>
<line x1="520.05" y1="130.1" x2="530.75" y2="130.1" stroke="#ee7256" stroke-width="1.25"/>
<line x1="554.9" y1="109.4" x2="554.9" y2="135" stroke="#7e7e7e" stroke-width="1"/>
<line x1="554.9" y1="154.6" x2="554.9" y2="162.3" stroke="#7e7e7e" stroke-width="1"/>
<line x1="551.8" y1="109.4" x2="558" y2="109.4" stroke="#7e7e7e" stroke-width="1"/>
<line x1="551.8" y1="162.3" x2="558" y2="162.3" stroke="#7e7e7e" stroke-width="1"/>
<rect x="549.15" y="135" width="11.5" height="19.6" fill="#bbd8c3" stroke="#72bd98" stroke-width="1"/>
<line x1="549.55" y1="144.5" x2="560.25" y2="144.5" stroke="#dc7b68" stroke-width="1.25"/>
<path d="M553.3 187.3H556.5M554.9 185.7V188.9" stroke="#4a4a4a" stroke-width="0.9" fill="none"/>
<line x1="572.5" y1="127.4" x2="572.5" y2="136.4" stroke="#7e7e7e" stroke-width="1"/>
<line x1="572.5" y1="161.9" x2="572.5" y2="180.4" stroke="#7e7e7e" stroke-width="1"/>
<line x1="569.4" y1="127.4" x2="575.6" y2="127.4" stroke="#7e7e7e" stroke-width="1"/>
<line x1="569.4" y1="180.4" x2="575.6" y2="180.4" stroke="#7e7e7e" stroke-width="1"/>
<rect x="566.75" y="136.4" width="11.5" height="25.5" fill="#f4d1a6" stroke="#f2b274" stroke-width="1"/>
<line x1="567.15" y1="148.1" x2="577.85" y2="148.1" stroke="#ee7256" stroke-width="1.25"/>
<line x1="602.2" y1="98.6" x2="602.2" y2="118.6" stroke="#7e7e7e" stroke-width="1"/>
<line x1="602.2" y1="146.7" x2="602.2" y2="170.2" stroke="#7e7e7e" stroke-width="1"/>
<line x1="599.1" y1="98.6" x2="605.3" y2="98.6" stroke="#7e7e7e" stroke-width="1"/>
<line x1="599.1" y1="170.2" x2="605.3" y2="170.2" stroke="#7e7e7e" stroke-width="1"/>
<rect x="596.45" y="118.6" width="11.5" height="28.1" fill="#bbd8c3" stroke="#72bd98" stroke-width="1"/>
<line x1="596.85" y1="134.5" x2="607.55" y2="134.5" stroke="#dc7b68" stroke-width="1.25"/>
<line x1="619.8" y1="106.7" x2="619.8" y2="126.8" stroke="#7e7e7e" stroke-width="1"/>
<line x1="619.8" y1="159.1" x2="619.8" y2="183.4" stroke="#7e7e7e" stroke-width="1"/>
<line x1="616.7" y1="106.7" x2="622.9" y2="106.7" stroke="#7e7e7e" stroke-width="1"/>
<line x1="616.7" y1="183.4" x2="622.9" y2="183.4" stroke="#7e7e7e" stroke-width="1"/>
<rect x="614.05" y="126.8" width="11.5" height="32.3" fill="#f4d1a6" stroke="#f2b274" stroke-width="1"/>
<line x1="614.45" y1="137.4" x2="625.15" y2="137.4" stroke="#ee7256" stroke-width="1.25"/>
<line x1="649.5" y1="71.4" x2="649.5" y2="94.4" stroke="#7e7e7e" stroke-width="1"/>
<line x1="649.5" y1="122" x2="649.5" y2="125.4" stroke="#7e7e7e" stroke-width="1"/>
<line x1="646.4" y1="71.4" x2="652.6" y2="71.4" stroke="#7e7e7e" stroke-width="1"/>
<line x1="646.4" y1="125.4" x2="652.6" y2="125.4" stroke="#7e7e7e" stroke-width="1"/>
<rect x="643.75" y="94.4" width="11.5" height="27.6" fill="#bbd8c3" stroke="#72bd98" stroke-width="1"/>
<line x1="644.15" y1="114" x2="654.85" y2="114" stroke="#dc7b68" stroke-width="1.25"/>
<line x1="667.1" y1="82.2" x2="667.1" y2="88.3" stroke="#7e7e7e" stroke-width="1"/>
<line x1="667.1" y1="139.6" x2="667.1" y2="144.7" stroke="#7e7e7e" stroke-width="1"/>
<line x1="664" y1="82.2" x2="670.2" y2="82.2" stroke="#7e7e7e" stroke-width="1"/>
<line x1="664" y1="144.7" x2="670.2" y2="144.7" stroke="#7e7e7e" stroke-width="1"/>
<rect x="661.35" y="88.3" width="11.5" height="51.3" fill="#f4d1a6" stroke="#f2b274" stroke-width="1"/>
<line x1="661.75" y1="122.4" x2="672.45" y2="122.4" stroke="#ee7256" stroke-width="1.25"/>
<line x1="492.8" y1="212.4" x2="492.8" y2="360.4" stroke="#707070" stroke-width="1"/>
<line x1="492.8" y1="212.4" x2="495" y2="212.4" stroke="#707070" stroke-width="1"/>
<text transform="translate(490.3,215) scale(1,1.06)" class="tk" text-anchor="end">30</text>
<line x1="492.8" y1="227.2" x2="495" y2="227.2" stroke="#707070" stroke-width="1"/>
<text transform="translate(490.3,229.8) scale(1,1.06)" class="tk" text-anchor="end">25</text>
<line x1="492.8" y1="242" x2="495" y2="242" stroke="#707070" stroke-width="1"/>
<text transform="translate(490.3,244.6) scale(1,1.06)" class="tk" text-anchor="end">20</text>
<line x1="492.8" y1="256.8" x2="495" y2="256.8" stroke="#707070" stroke-width="1"/>
<text transform="translate(490.3,259.4) scale(1,1.06)" class="tk" text-anchor="end">15</text>
<line x1="492.8" y1="271.6" x2="495" y2="271.6" stroke="#707070" stroke-width="1"/>
<text transform="translate(490.3,274.2) scale(1,1.06)" class="tk" text-anchor="end">10</text>
<line x1="492.8" y1="286.4" x2="495" y2="286.4" stroke="#707070" stroke-width="1"/>
<text transform="translate(490.3,289) scale(1,1.06)" class="tk" text-anchor="end">5</text>
<line x1="492.8" y1="301.2" x2="495" y2="301.2" stroke="#707070" stroke-width="1"/>
<text transform="translate(490.3,303.8) scale(1,1.06)" class="tk" text-anchor="end">0</text>
<line x1="492.8" y1="316" x2="495" y2="316" stroke="#707070" stroke-width="1"/>
<text transform="translate(490.3,318.6) scale(1,1.06)" class="tk" text-anchor="end">-5</text>
<line x1="492.8" y1="330.8" x2="495" y2="330.8" stroke="#707070" stroke-width="1"/>
<text transform="translate(490.3,333.4) scale(1,1.06)" class="tk" text-anchor="end">-10</text>
<line x1="492.8" y1="345.6" x2="495" y2="345.6" stroke="#707070" stroke-width="1"/>
<text transform="translate(490.3,348.2) scale(1,1.06)" class="tk" text-anchor="end">-15</text>
<line x1="492.8" y1="360.4" x2="495" y2="360.4" stroke="#707070" stroke-width="1"/>
<text transform="translate(490.3,363) scale(1,1.06)" class="tk" text-anchor="end">-20</text>
<text transform="translate(478.9,285.8) rotate(-90) scale(1,1.08)" class="yl" text-anchor="middle">Relative CBFv (cm/s)</text>
<line x1="507.8" y1="289.3" x2="507.8" y2="297.4" stroke="#7e7e7e" stroke-width="1"/>
<line x1="507.8" y1="313.7" x2="507.8" y2="323.4" stroke="#7e7e7e" stroke-width="1"/>
<line x1="504.7" y1="289.3" x2="510.9" y2="289.3" stroke="#7e7e7e" stroke-width="1"/>
<line x1="504.7" y1="323.4" x2="510.9" y2="323.4" stroke="#7e7e7e" stroke-width="1"/>
<rect x="502.05" y="297.4" width="11.5" height="16.3" fill="#bbd8c3" stroke="#72bd98" stroke-width="1"/>
<line x1="502.45" y1="300.9" x2="513.15" y2="300.9" stroke="#dc7b68" stroke-width="1.25"/>
<path d="M506.2 267.3H509.4M507.8 265.7V268.9" stroke="#4a4a4a" stroke-width="0.9" fill="none"/>
<line x1="525.4" y1="286.7" x2="525.4" y2="289.3" stroke="#7e7e7e" stroke-width="1"/>
<line x1="525.4" y1="300.5" x2="525.4" y2="310.4" stroke="#7e7e7e" stroke-width="1"/>
<line x1="522.3" y1="286.7" x2="528.5" y2="286.7" stroke="#7e7e7e" stroke-width="1"/>
<line x1="522.3" y1="310.4" x2="528.5" y2="310.4" stroke="#7e7e7e" stroke-width="1"/>
<rect x="519.65" y="289.3" width="11.5" height="11.2" fill="#f4d1a6" stroke="#f2b274" stroke-width="1"/>
<line x1="520.05" y1="298.7" x2="530.75" y2="298.7" stroke="#ee7256" stroke-width="1.25"/>
<path d="M523.8 272.5H527M525.4 270.9V274.1" stroke="#4a4a4a" stroke-width="0.9" fill="none"/>
<path d="M523.8 323H527M525.4 321.4V324.6" stroke="#4a4a4a" stroke-width="0.9" fill="none"/>
<line x1="554.9" y1="283.5" x2="554.9" y2="297.6" stroke="#7e7e7e" stroke-width="1"/>
<line x1="554.9" y1="319.6" x2="554.9" y2="341.9" stroke="#7e7e7e" stroke-width="1"/>
<line x1="551.8" y1="283.5" x2="558" y2="283.5" stroke="#7e7e7e" stroke-width="1"/>
<line x1="551.8" y1="341.9" x2="558" y2="341.9" stroke="#7e7e7e" stroke-width="1"/>
<rect x="549.15" y="297.6" width="11.5" height="22" fill="#bbd8c3" stroke="#72bd98" stroke-width="1"/>
<line x1="549.55" y1="309.4" x2="560.25" y2="309.4" stroke="#dc7b68" stroke-width="1.25"/>
<line x1="572.5" y1="288.5" x2="572.5" y2="302.9" stroke="#7e7e7e" stroke-width="1"/>
<line x1="572.5" y1="324.6" x2="572.5" y2="344.5" stroke="#7e7e7e" stroke-width="1"/>
<line x1="569.4" y1="288.5" x2="575.6" y2="288.5" stroke="#7e7e7e" stroke-width="1"/>
<line x1="569.4" y1="344.5" x2="575.6" y2="344.5" stroke="#7e7e7e" stroke-width="1"/>
<rect x="566.75" y="302.9" width="11.5" height="21.7" fill="#f4d1a6" stroke="#f2b274" stroke-width="1"/>
<line x1="567.15" y1="310.4" x2="577.85" y2="310.4" stroke="#ee7256" stroke-width="1.25"/>
<line x1="602.2" y1="266.5" x2="602.2" y2="288.3" stroke="#7e7e7e" stroke-width="1"/>
<line x1="602.2" y1="321" x2="602.2" y2="329.1" stroke="#7e7e7e" stroke-width="1"/>
<line x1="599.1" y1="266.5" x2="605.3" y2="266.5" stroke="#7e7e7e" stroke-width="1"/>
<line x1="599.1" y1="329.1" x2="605.3" y2="329.1" stroke="#7e7e7e" stroke-width="1"/>
<rect x="596.45" y="288.3" width="11.5" height="32.7" fill="#bbd8c3" stroke="#72bd98" stroke-width="1"/>
<line x1="596.85" y1="304.5" x2="607.55" y2="304.5" stroke="#dc7b68" stroke-width="1.25"/>
<line x1="619.8" y1="282" x2="619.8" y2="292.2" stroke="#7e7e7e" stroke-width="1"/>
<line x1="619.8" y1="316.7" x2="619.8" y2="335.4" stroke="#7e7e7e" stroke-width="1"/>
<line x1="616.7" y1="282" x2="622.9" y2="282" stroke="#7e7e7e" stroke-width="1"/>
<line x1="616.7" y1="335.4" x2="622.9" y2="335.4" stroke="#7e7e7e" stroke-width="1"/>
<rect x="614.05" y="292.2" width="11.5" height="24.5" fill="#f4d1a6" stroke="#f2b274" stroke-width="1"/>
<line x1="614.45" y1="296.4" x2="625.15" y2="296.4" stroke="#ee7256" stroke-width="1.25"/>
<path d="M618.2 356.5H621.4M619.8 354.9V358.1" stroke="#4a4a4a" stroke-width="0.9" fill="none"/>
<line x1="649.5" y1="257.7" x2="649.5" y2="275.2" stroke="#7e7e7e" stroke-width="1"/>
<line x1="649.5" y1="311.8" x2="649.5" y2="325.4" stroke="#7e7e7e" stroke-width="1"/>
<line x1="646.4" y1="257.7" x2="652.6" y2="257.7" stroke="#7e7e7e" stroke-width="1"/>
<line x1="646.4" y1="325.4" x2="652.6" y2="325.4" stroke="#7e7e7e" stroke-width="1"/>
<rect x="643.75" y="275.2" width="11.5" height="36.6" fill="#bbd8c3" stroke="#72bd98" stroke-width="1"/>
<line x1="644.15" y1="292" x2="654.85" y2="292" stroke="#dc7b68" stroke-width="1.25"/>
<line x1="667.1" y1="263.4" x2="667.1" y2="273.6" stroke="#7e7e7e" stroke-width="1"/>
<line x1="667.1" y1="289.3" x2="667.1" y2="301.7" stroke="#7e7e7e" stroke-width="1"/>
<line x1="664" y1="263.4" x2="670.2" y2="263.4" stroke="#7e7e7e" stroke-width="1"/>
<line x1="664" y1="301.7" x2="670.2" y2="301.7" stroke="#7e7e7e" stroke-width="1"/>
<rect x="661.35" y="273.6" width="11.5" height="15.7" fill="#f4d1a6" stroke="#f2b274" stroke-width="1"/>
<line x1="661.75" y1="285.3" x2="672.45" y2="285.3" stroke="#ee7256" stroke-width="1.25"/>
<path d="M665.5 321.4H668.7M667.1 319.8V323" stroke="#4a4a4a" stroke-width="0.9" fill="none"/>
<path d="M665.5 341.1H668.7M667.1 339.5V342.7" stroke="#4a4a4a" stroke-width="0.9" fill="none"/>
<text transform="translate(516.6,380) scale(1,1.14)" class="xl" text-anchor="middle">I</text>
<text transform="translate(563.7,380) scale(1,1.14)" class="xl" text-anchor="middle">II</text>
<text transform="translate(611,380) scale(1,1.14)" class="xl" text-anchor="middle">III</text>
<text transform="translate(658.3,380) scale(1,1.14)" class="xl" text-anchor="middle">IV</text>
<text transform="translate(587.6,396.8) scale(1,1.06)" class="xt" text-anchor="middle">VM Phase</text>
<path d="M190.75 213.7V207.6H208.4V213.7" stroke="#6a6a6a" stroke-width="1" fill="none"/>
<text transform="translate(199.57,207.3) scale(1,1.0)" class="st" text-anchor="middle">*</text>
<path d="M420.05 213.7V207.6H437.7V213.7" stroke="#6a6a6a" stroke-width="1" fill="none"/>
<text transform="translate(428.88,207.3) scale(1,1.0)" class="st" text-anchor="middle">*</text>
</svg>
</body></html>
